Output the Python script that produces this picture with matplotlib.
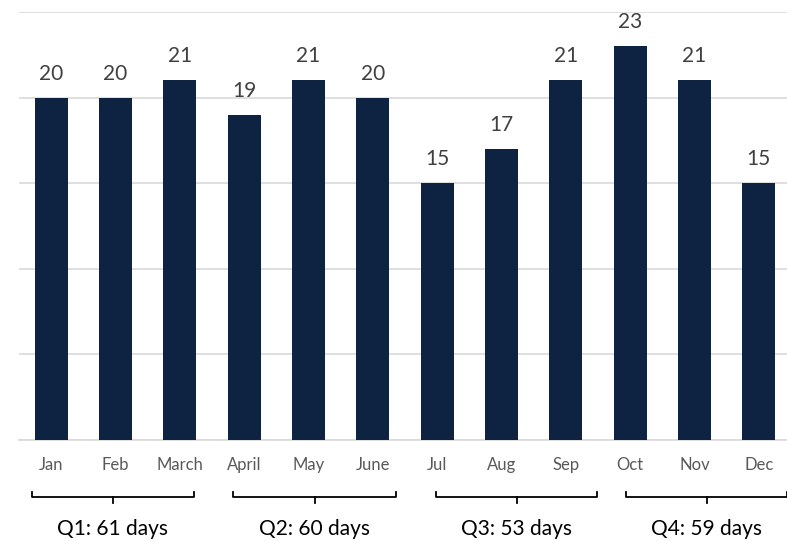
# Monthly working days bar chart with quarter brackets
import numpy as np
import matplotlib
matplotlib.use('Agg')
import matplotlib.pyplot as plt

# data
months = ['Jan', 'Feb', 'March', 'April', 'May', 'June',
          'Jul', 'Aug', 'Sep', 'Oct', 'Nov', 'Dec']
days = [20, 20, 21, 19, 21, 20, 15, 17, 21, 23, 21, 15]
quarter_labels = ['Q1: 61 days', 'Q2: 60 days', 'Q3: 53 days', 'Q4: 59 days']

# bracket spans (data x) - drawn by hand in the original
bracket_spans = [(-0.30, 2.22), (2.83, 5.36), (5.98, 8.49), (8.94, 11.44)]

plt.rcParams['font.family'] = ['Lato', 'DejaVu Sans']

fig = plt.figure(figsize=(7.87, 5.41), dpi=100)
ax = fig.add_axes([19 / 787, 101 / 541, 772 / 787, 428 / 541])

x = np.arange(len(months))
ax.bar(x, days, width=0.51, color='#0e2241', zorder=3)

for xi, d in zip(x, days):
    ax.annotate(str(d), (xi, d), xytext=(0, 13), textcoords='offset points',
                ha='center', va='baseline', fontsize=15, color='#404040')

ax.set_xlim(-0.5, 11.5)
ax.set_ylim(0, 25)
ax.set_yticks(np.arange(0, 26, 5))
ax.yaxis.grid(True, color='#d9d9d9', linewidth=1.2, zorder=0)
ax.tick_params(axis='y', left=False, labelleft=False)
ax.tick_params(axis='x', length=0, pad=12)
ax.set_xticks(x)
ax.set_xticklabels(months, fontsize=12, color='#595959')
for s in ['top', 'right', 'left']:
    ax.spines[s].set_visible(False)
ax.spines['bottom'].set_color('#d9d9d9')
ax.spines['bottom'].set_linewidth(1.2)

# quarter brackets below the month labels (y in axes fraction)
trans = ax.get_xaxis_transform()
px = 1 / 428  # one pixel in axes fraction
y_line = -57 * px
for (x0, x1), lab in zip(bracket_spans, quarter_labels):
    xm = (x0 + x1) / 2
    ax.plot([x0, x0, x1, x1], [y_line + 5 * px, y_line, y_line, y_line + 5 * px],
            transform=trans, color='black', linewidth=1.3, clip_on=False)
    ax.plot([xm, xm], [y_line, y_line - 6 * px], transform=trans,
            color='black', linewidth=1.3, clip_on=False)
    ax.text(xm, -89 * px, lab, transform=trans, ha='center', va='center',
            fontsize=15, color='black')

plt.savefig('out.png', dpi=100)
